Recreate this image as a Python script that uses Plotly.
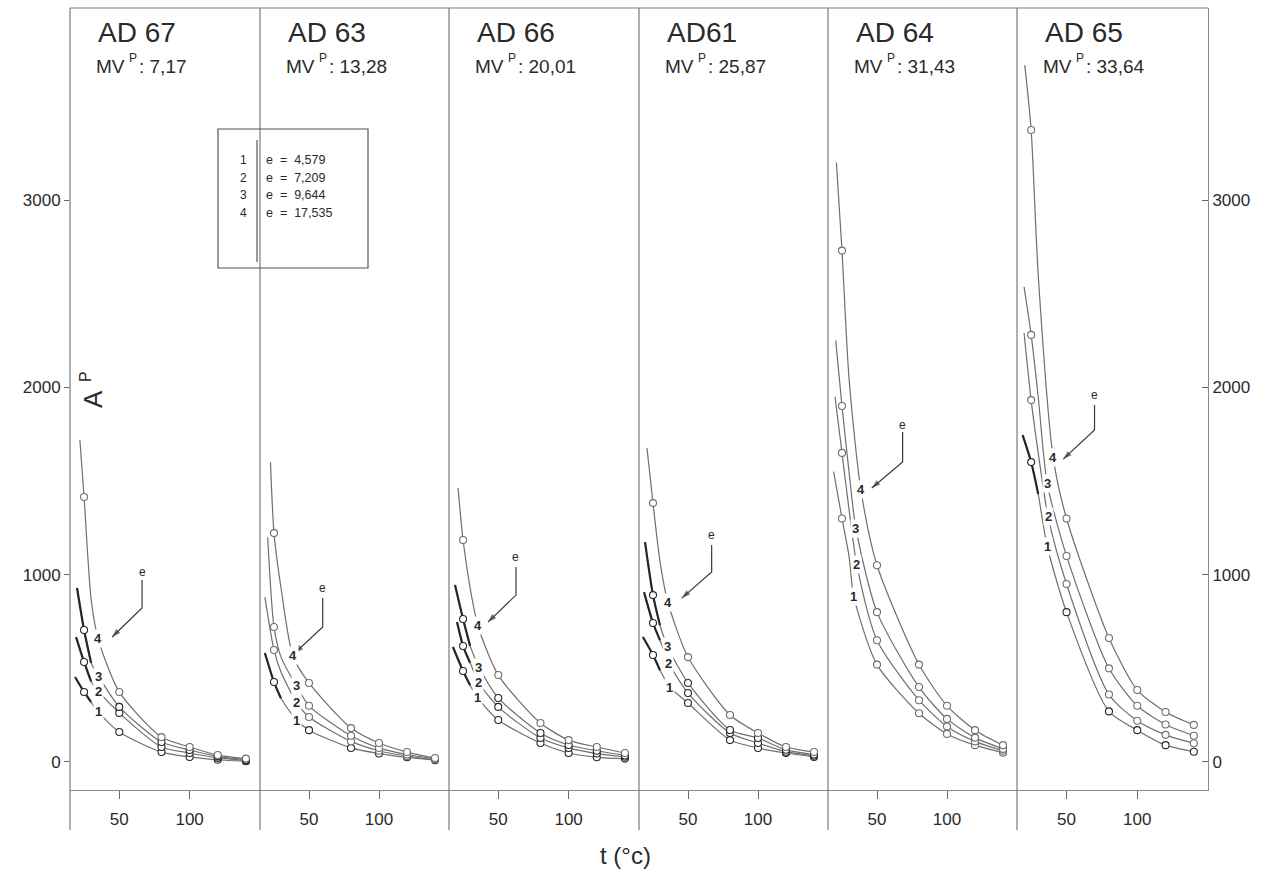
import plotly.graph_objects as go

W, H = 1274, 875

PANEL_NAMES = ["AD 67", "AD 63", "AD 66", "AD61", "AD 64", "AD 65"]
MVP_VALUES = ["7,17", "13,28", "20,01", "25,87", "31,43", "33,64"]
E_NUMBERS = ["1", "2", "3", "4"]
E_VALUES = ["4,579", "7,209", "9,644", "17,535"]
T_MARKS = [25, 50, 80, 100, 120, 140]
X_TICKS = [50, 100]
Y_TICKS = [0, 1000, 2000, 3000]

# ---- AD 67 (curves e1..e4): start point, value at t=30, label point, values at T_MARKS
AD67_T0 = [18.6, 19.3, 20.0, 22.0]
AD67_V0 = [454, 667, 929, 1720]
AD67_V30 = [320, 430, 530, 870]
AD67_TL = [35.0, 35.6, 35.6, 35.0]
AD67_VL = [267, 374, 454, 657]
AD67_E1 = [374, 160, 53, 27, 12, 4]
AD67_E2 = [534, 262, 80, 48, 22, 8]
AD67_E3 = [705, 294, 107, 64, 30, 12]
AD67_E4 = [1415, 374, 133, 80, 37, 18]

# ---- AD 63
AD63_T0 = [18.5, 18.5, 20.5, 22.5]
AD63_V0 = [582, 880, 1200, 1600]
AD63_V30 = [340, 480, 560, 930]
AD63_TL = [41.0, 41.0, 41.0, 38.5]
AD63_VL = [224, 320, 406, 566]
AD63_E1 = [427, 170, 75, 45, 25, 10]
AD63_E2 = [598, 240, 110, 60, 32, 13]
AD63_E3 = [721, 300, 140, 75, 40, 16]
AD63_E4 = [1222, 422, 181, 101, 53, 21]

# ---- AD 66
AD66_T0 = [17.8, 20.7, 19.3, 21.4]
AD66_V0 = [614, 747, 945, 1462]
AD66_V30 = [410, 530, 620, 930]
AD66_TL = [35.6, 36.3, 36.3, 35.6]
AD66_VL = [342, 422, 507, 726]
AD66_E1 = [486, 224, 101, 48, 25, 18]
AD66_E2 = [619, 294, 128, 75, 45, 28]
AD66_E3 = [763, 342, 155, 91, 60, 35]
AD66_E4 = [1185, 464, 208, 117, 80, 48]

# ---- AD 61
AD61_T0 = [17.8, 18.6, 19.3, 20.7]
AD61_V0 = [667, 907, 1174, 1676]
AD61_V30 = [490, 650, 730, 1070]
AD61_TL = [37.0, 36.3, 35.6, 35.6]
AD61_VL = [400, 528, 614, 854]
AD61_E1 = [571, 315, 117, 75, 48, 27]
AD61_E2 = [742, 368, 155, 101, 55, 33]
AD61_E3 = [891, 422, 171, 128, 65, 40]
AD61_E4 = [1382, 560, 251, 155, 80, 53]

# ---- AD 64
AD64_T0 = [19.0, 20.0, 20.5, 21.0]
AD64_V0 = [1550, 1950, 2250, 3200]
AD64_V30 = [1100, 1350, 1550, 2050]
AD64_TL = [33.5, 35.6, 34.9, 38.5]
AD64_VL = [881, 1052, 1249, 1452]
AD64_E1 = [1300, 520, 260, 150, 90, 50]
AD64_E2 = [1650, 650, 330, 190, 110, 60]
AD64_E3 = [1900, 800, 400, 230, 130, 70]
AD64_E4 = [2730, 1050, 520, 300, 170, 90]

# ---- AD 65
AD65_T0 = [19.0, 20.0, 20.0, 20.5]
AD65_V0 = [1745, 2290, 2536, 3720]
AD65_V30 = [1430, 1650, 1950, 2600]
AD65_TL = [36.3, 37.0, 36.3, 40.6]
AD65_VL = [1153, 1308, 1489, 1623]
AD65_E1 = [1601, 800, 270, 170, 90, 55]
AD65_E2 = [1932, 950, 360, 220, 145, 100]
AD65_E3 = [2280, 1100, 500, 300, 200, 140]
AD65_E4 = [3374, 1300, 662, 384, 267, 198]

PANEL_T0 = [AD67_T0, AD63_T0, AD66_T0, AD61_T0, AD64_T0, AD65_T0]
PANEL_V0 = [AD67_V0, AD63_V0, AD66_V0, AD61_V0, AD64_V0, AD65_V0]
PANEL_V30 = [AD67_V30, AD63_V30, AD66_V30, AD61_V30, AD64_V30, AD65_V30]
PANEL_TL = [AD67_TL, AD63_TL, AD66_TL, AD61_TL, AD64_TL, AD65_TL]
PANEL_VL = [AD67_VL, AD63_VL, AD66_VL, AD61_VL, AD64_VL, AD65_VL]
PANEL_MARKS = [
    [AD67_E1, AD67_E2, AD67_E3, AD67_E4],
    [AD63_E1, AD63_E2, AD63_E3, AD63_E4],
    [AD66_E1, AD66_E2, AD66_E3, AD66_E4],
    [AD61_E1, AD61_E2, AD61_E3, AD61_E4],
    [AD64_E1, AD64_E2, AD64_E3, AD64_E4],
    [AD65_E1, AD65_E2, AD65_E3, AD65_E4],
]
# curves whose first segment is drawn heavy (index 0 = e1)
BOLD_CURVES = [[0, 1, 2], [0], [0, 1, 2], [0, 1, 2], [], [0]]

# "e" pointer: text position, bend, arrow tip (data units of each panel)
E_TEXT_T = [66.2, 59.8, 62.6, 66.9, 68.3, 69.8]
E_TEXT_V = [1014, 929, 1094, 1212, 1799, 1959]
E_TOP_V = [971, 875, 1041, 1158, 1762, 1906]
E_BEND_V = [822, 721, 891, 1014, 1601, 1772]
E_TIP_T = [44.9, 39.9, 42.7, 45.6, 46.3, 47.7]
E_TIP_V = [667, 582, 747, 875, 1463, 1617]

# ---------------- layout geometry (pixels) ----------------
EDGES = [70, 260, 449, 639, 828, 1017, 1208]
TOP_PX, BOTTOM_PX = 8, 790
Y_RANGE = [-149.5, 4025]
X_RANGE = [15, 150]

THIN = "#6f6f6f"
DARK = "#262626"
TXT = "#2a2a2a"
FONT = "Liberation Sans"


def px(x):
    return x / W


def py(y):
    return 1 - y / H


def text_ann(x, y, text, size, xanchor="left", angle=0):
    return dict(xref="paper", yref="paper", x=px(x), y=py(y), text=text,
                xanchor=xanchor, yanchor="middle", showarrow=False, textangle=angle,
                font=dict(family=FONT, size=size, color=TXT))


fig = go.Figure()

for p in range(6):
    xa = "x" if p == 0 else f"x{p + 1}"
    for k in range(4):
        marks = PANEL_MARKS[p][k]
        t = [PANEL_T0[p][k], T_MARKS[0], 30, PANEL_TL[p][k]] + T_MARKS[1:]
        v = [PANEL_V0[p][k], marks[0], PANEL_V30[p][k], PANEL_VL[p][k]] + marks[1:]
        fig.add_trace(go.Scatter(
            x=t, y=v, xaxis=xa, yaxis="y", mode="lines",
            line=dict(color=THIN, width=1.2, shape="spline", smoothing=0.7),
            showlegend=False, hoverinfo="skip"))
        if k in BOLD_CURVES[p]:
            fig.add_trace(go.Scatter(
                x=t[:3], y=v[:3], xaxis=xa, yaxis="y", mode="lines",
                line=dict(color=DARK, width=2.2, shape="spline", smoothing=0.7),
                showlegend=False, hoverinfo="skip"))
        fig.add_trace(go.Scatter(
            x=T_MARKS, y=marks, xaxis=xa, yaxis="y", mode="markers",
            marker=dict(symbol="circle", size=7, color="white",
                        line=dict(color=DARK if k in BOLD_CURVES[p] else THIN, width=1.1)),
            showlegend=False, hoverinfo="skip"))

    # "e" pointer: vertical stroke, then diagonal ending in an arrow head
    fig.add_trace(go.Scatter(
        x=[E_TEXT_T[p], E_TEXT_T[p], E_TIP_T[p]],
        y=[E_TOP_V[p], E_BEND_V[p], E_TIP_V[p]],
        xaxis=xa, yaxis="y", mode="lines+markers",
        line=dict(color="#3a3a3a", width=1.2),
        marker=dict(symbol="arrow", size=[0, 0, 9], angleref="previous",
                    color="#3a3a3a", line=dict(width=0)),
        showlegend=False, hoverinfo="skip"))

# invisible trace for the right-hand axis
fig.add_trace(go.Scatter(x=[X_RANGE[1]], y=[0], xaxis="x6", yaxis="y2", mode="markers",
                         marker=dict(opacity=0), showlegend=False, hoverinfo="skip"))

annotations = []
shapes = []

for p in range(6):
    xa = "x" if p == 0 else f"x{p + 1}"
    axis_cfg = dict(
        domain=[px(EDGES[p]), px(EDGES[p + 1])], range=X_RANGE, anchor="y",
        tickmode="array", tickvals=X_TICKS, ticktext=[str(v) for v in X_TICKS],
        ticks="outside", ticklen=8, tickcolor="#666", tickwidth=1,
        showline=True, linecolor="#8a8a8a", linewidth=1,
        showgrid=False, zeroline=False, ticklabelstandoff=6,
        tickfont=dict(family=FONT, size=17, color=TXT))
    key = "xaxis" if p == 0 else f"xaxis{p + 1}"
    fig.layout[key] = axis_cfg

    # panel titles: "AD xx" and "MV^P : value" (superscript as its own small text)
    e0 = EDGES[p]
    annotations.append(text_ann(e0 + 26, 32, PANEL_NAMES[p], 28))
    annotations.append(text_ann(e0 + 24, 67, "MV", 19))
    annotations.append(text_ann(e0 + 57, 58, "P", 12))
    annotations.append(text_ann(e0 + 67, 67, f": {MVP_VALUES[p]}", 19))

    # curve labels 1..4 sitting in a gap of their curve
    for k in range(4):
        annotations.append(dict(xref=xa, yref="y", x=PANEL_TL[p][k], y=PANEL_VL[p][k],
                                text=f"<b>{E_NUMBERS[k]}</b>", showarrow=False,
                                xanchor="center", yanchor="middle",
                                bgcolor="white", borderpad=1,
                                font=dict(family=FONT, size=13, color=TXT)))

    # "e" text of the pointer
    annotations.append(dict(xref=xa, yref="y", x=E_TEXT_T[p], y=E_TEXT_V[p], text="e",
                            showarrow=False, xanchor="center", yanchor="middle",
                            font=dict(family=FONT, size=12, color=TXT)))

# panel dividers and frame
for e in EDGES[:-1]:
    shapes.append(dict(type="line", xref="paper", yref="paper", x0=px(e), x1=px(e),
                       y0=py(TOP_PX), y1=py(830), line=dict(color="#7a7a7a", width=1.2)))
shapes.append(dict(type="line", xref="paper", yref="paper", x0=px(EDGES[0]), x1=px(EDGES[-1]),
                   y0=py(TOP_PX), y1=py(TOP_PX), line=dict(color="#7a7a7a", width=1.2)))

# legend box
shapes.append(dict(type="rect", xref="paper", yref="paper", x0=px(218), x1=px(368),
                   y0=py(129), y1=py(268), line=dict(color="#555", width=1.2)))
shapes.append(dict(type="line", xref="paper", yref="paper", x0=px(257), x1=px(257),
                   y0=py(140), y1=py(262), line=dict(color="#555", width=1.2)))
for k in range(4):
    yy = 160 + 17.5 * k
    annotations.append(text_ann(243, yy, E_NUMBERS[k], 12, xanchor="center"))
    annotations.append(text_ann(264, yy, f"e  =  {E_VALUES[k]}", 12.5))

# axis titles ("A" with superscript "P", rotated)
annotations.append(text_ann(93, 399, "A", 26, xanchor="center", angle=-90))
annotations.append(text_ann(85, 377, "P", 16, xanchor="center", angle=-90))
annotations.append(text_ann(625, 855, "t (°c)", 24, xanchor="center"))

fig.update_layout(
    width=W, height=H, margin=dict(l=0, r=0, t=0, b=0),
    paper_bgcolor="white", plot_bgcolor="white", showlegend=False,
    yaxis=dict(domain=[py(BOTTOM_PX), py(TOP_PX)], range=Y_RANGE, anchor="x",
               tickmode="array", tickvals=Y_TICKS, ticktext=[str(v) for v in Y_TICKS],
               ticks="outside", ticklen=5, tickcolor="#666",
               showline=False, showgrid=False, zeroline=False,
               tickfont=dict(family=FONT, size=17, color=TXT)),
    yaxis2=dict(domain=[py(BOTTOM_PX), py(TOP_PX)], range=Y_RANGE, anchor="x6",
                overlaying="y", side="right",
                tickmode="array", tickvals=Y_TICKS, ticktext=[str(v) for v in Y_TICKS],
                ticks="inside", ticklen=6, tickcolor="#666",
                showline=True, linecolor="#8a8a8a", linewidth=1,
                showgrid=False, zeroline=False,
                tickfont=dict(family=FONT, size=17, color=TXT)),
    annotations=annotations, shapes=shapes,
)

fig.write_html("out.html")
